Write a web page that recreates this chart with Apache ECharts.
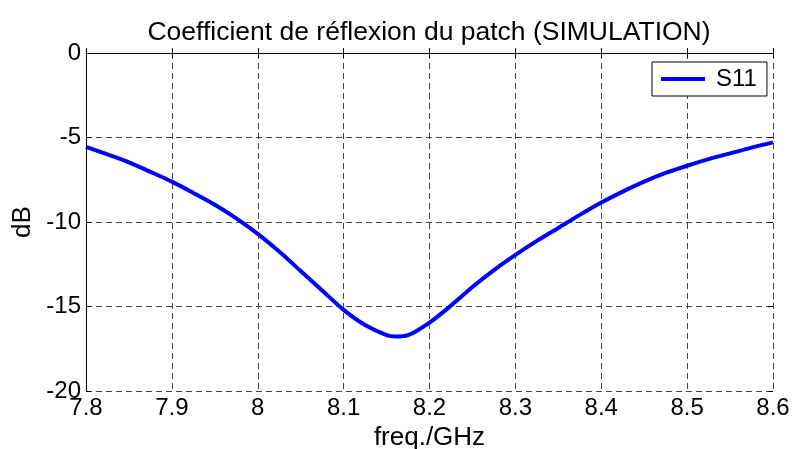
<!DOCTYPE html>
<html>
<head>
<meta charset="utf-8">
<script src="https://cdn.jsdelivr.net/npm/echarts@6/dist/echarts.min.js"></script>
<style>
html,body{margin:0;padding:0;background:#fff;}
#c{width:792px;height:449px;}
</style>
</head>
<body>
<div id="c"></div>
<script>
const titleText = 'Coefficient de réflexion du patch (SIMULATION)';
const xName = 'freq./GHz';
const yName = 'dB';
const seriesName = 'S11';
const xTicks = [7.8, 7.9, 8.0, 8.1, 8.2, 8.3, 8.4, 8.5, 8.6];
const yTicks = [-20, -15, -10, -5, 0];
const freq = [7.800, 7.825, 7.850, 7.875, 7.900, 7.925, 7.950, 7.975, 8.000, 8.025, 8.050, 8.075, 8.100, 8.125, 8.150, 8.160, 8.175, 8.200, 8.225, 8.250, 8.275, 8.300, 8.325, 8.350, 8.375, 8.400, 8.425, 8.450, 8.475, 8.500, 8.525, 8.550, 8.575, 8.600];
const s11 = [-5.55, -6.0, -6.47, -7.03, -7.61, -8.28, -8.98, -9.78, -10.7, -11.75, -12.9, -14.05, -15.2, -16.1, -16.7, -16.78, -16.7, -15.95, -14.95, -13.85, -12.85, -11.95, -11.12, -10.35, -9.58, -8.85, -8.2, -7.61, -7.1, -6.67, -6.28, -5.94, -5.6, -5.29];

const FONT = 'Liberation Sans, Arial, Helvetica, sans-serif';
const gridLine = {show: true, lineStyle: {color: '#444', type: [6, 4], width: 1}};

const chart = echarts.init(document.getElementById('c'), null, {renderer: 'canvas'});
chart.setOption({
  animation: false,
  backgroundColor: '#fff',
  title: {
    text: titleText,
    left: 424, top: 14, textAlign: 'center',
    textStyle: {fontFamily: FONT, fontSize: 26.5, fontWeight: 'normal', color: '#000'}
  },
  legend: {
    data: [{name: seriesName, icon: 'rect'}],
    left: 652, top: 62,
    padding: [5, 10, 5, 9],
    itemWidth: 44, itemHeight: 4,
    borderColor: '#000', borderWidth: 1, backgroundColor: '#fff',
    textStyle: {fontFamily: FONT, fontSize: 24, color: '#000', padding: [0, 0, 0, 6]}
  },
  grid: {left: 86, top: 53, right: 19, bottom: 58, containLabel: false, outerBoundsMode: 'none'},
  xAxis: [{
    type: 'value', min: xTicks[0], max: xTicks[xTicks.length - 1], interval: 0.1,
    position: 'bottom',
    name: xName, nameLocation: 'middle', nameGap: 30,
    nameTextStyle: {fontFamily: FONT, fontSize: 26, color: '#000'},
    axisLine: {show: true, lineStyle: {color: '#000', width: 1}},
    axisTick: {show: true, inside: true, length: 5, lineStyle: {color: '#000'}},
    axisLabel: {fontFamily: FONT, fontSize: 24, color: '#000', margin: 5,
      formatter: v => { const t = xTicks.find(k => Math.abs(k - v) < 1e-6); return t === undefined ? '' : String(t); }},
    splitLine: gridLine
  }, {
    type: 'value', min: xTicks[0], max: xTicks[xTicks.length - 1], interval: 0.1,
    position: 'top',
    axisLine: {show: false},
    axisTick: {show: true, inside: true, length: 5, lineStyle: {color: '#000'}},
    axisLabel: {show: false},
    splitLine: {show: false}
  }],
  yAxis: [{
    type: 'value', min: yTicks[0], max: yTicks[yTicks.length - 1], interval: 5,
    position: 'left',
    name: yName, nameLocation: 'middle', nameGap: 47, nameRotate: 90,
    nameTextStyle: {fontFamily: FONT, fontSize: 26, color: '#000'},
    axisLine: {show: true, lineStyle: {color: '#000', width: 1}},
    axisTick: {show: true, inside: true, length: 5, lineStyle: {color: '#000'}},
    axisLabel: {fontFamily: FONT, fontSize: 24, color: '#000', margin: 5},
    splitLine: gridLine
  }, {
    type: 'value', min: yTicks[0], max: yTicks[yTicks.length - 1], interval: 5,
    position: 'right',
    axisLine: {show: false},
    axisTick: {show: true, inside: true, length: 5, lineStyle: {color: '#000'}},
    axisLabel: {show: false},
    splitLine: {show: false}
  }],
  series: [{
    name: seriesName, type: 'line',
    data: freq.map((f, i) => [f, s11[i]]),
    smooth: 0.3, showSymbol: false, symbol: 'none',
    lineStyle: {color: '#0000ff', width: 4},
    itemStyle: {color: '#0000ff'}
  }]
});
</script>
</body>
</html>
